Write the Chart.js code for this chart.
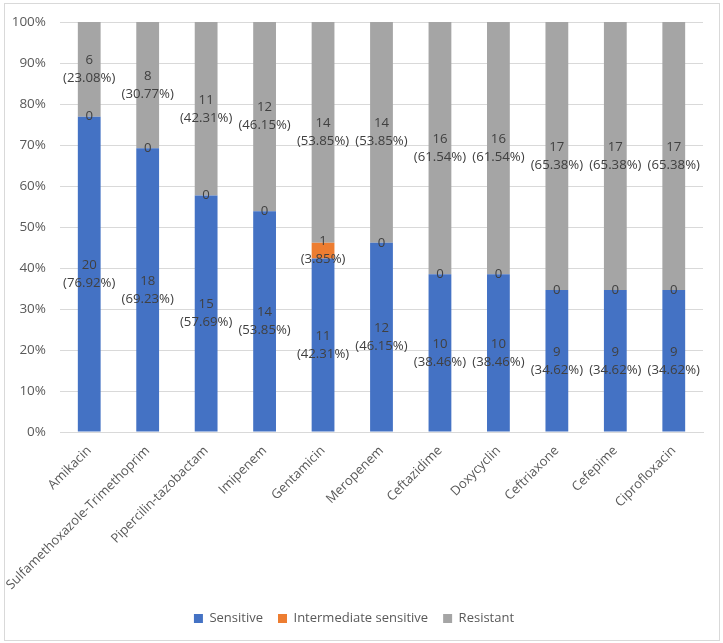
<!DOCTYPE html>
<html>
<head>
<meta charset="utf-8">
<script src="https://cdn.jsdelivr.net/npm/chart.js@4.4.1/dist/chart.umd.min.js"></script>
<style>
  body { margin: 0; background: #fff; }
  #wrap { position: absolute; left: 0; top: 0; width: 723px; height: 643px; }
</style>
</head>
<body>
<div id="wrap"><canvas id="abChart" width="723" height="643"></canvas></div>
<script>
// Data
const drugs = ['Amikacin', 'Sulfamethoxazole-Trimethoprim', 'Pipercilin-tazobactam', 'Imipenem',
  'Gentamicin', 'Meropenem', 'Ceftazidime', 'Doxycyclin', 'Ceftriaxone', 'Cefepime', 'Ciprofloxacin'];

const sensitiveN = [20, 18, 15, 14, 11, 12, 10, 10, 9, 9, 9];
const sensitivePct = [76.92, 69.23, 57.69, 53.85, 42.31, 46.15, 38.46, 38.46, 34.62, 34.62, 34.62];
const intermediateN = [0, 0, 0, 0, 1, 0, 0, 0, 0, 0, 0];
const intermediatePct = [0, 0, 0, 0, 3.85, 0, 0, 0, 0, 0, 0];
const resistantN = [6, 8, 11, 12, 14, 14, 16, 16, 17, 17, 17];
const resistantPct = [23.08, 30.77, 42.31, 46.15, 53.85, 53.85, 61.54, 61.54, 65.38, 65.38, 65.38];

const yTicks = [0, 10, 20, 30, 40, 50, 60, 70, 80, 90, 100];

const FONT = 'Open Sans';
const grey = '#595959';

// border round the whole chart
const frame = {
  id: 'frame',
  beforeDraw(chart) {
    const c = chart.ctx;
    c.save();
    c.fillStyle = '#fff';
    c.fillRect(0, 0, chart.width, chart.height);
    c.strokeStyle = '#d9d9d9';
    c.lineWidth = 1;
    c.strokeRect(4.5, 3.5, 715, 637);
    c.restore();
  }
};

// count + percent labels in the middle of each piece
const segLabels = {
  id: 'segLabels',
  afterDatasetsDraw(chart) {
    const c = chart.ctx;
    c.save();
    c.font = '13.2px "' + FONT + '"';
    c.fillStyle = '#404040';
    c.textAlign = 'center';
    c.textBaseline = 'middle';
    chart.data.datasets.forEach((ds, i) => {
      const meta = chart.getDatasetMeta(i);
      meta.data.forEach((bar, j) => {
        const n = ds.counts[j];
        const mid = (bar.y + bar.base) / 2;
        if (n === 0) {
          c.fillText('0', bar.x, mid);
        } else {
          c.fillText(String(n), bar.x, mid - 9);
          c.fillText('(' + ds.data[j].toFixed(2) + '%)', bar.x, mid + 9);
        }
      });
    });
    c.restore();
  }
};

const ctx = document.getElementById('abChart').getContext('2d');
new Chart(ctx, {
  type: 'bar',
  data: {
    labels: drugs,
    datasets: [
      { label: 'Sensitive', data: sensitivePct, counts: sensitiveN, backgroundColor: '#4472c4' },
      { label: 'Intermediate sensitive', data: intermediatePct, counts: intermediateN, backgroundColor: '#ed7d31' },
      { label: 'Resistant', data: resistantPct, counts: resistantN, backgroundColor: '#a5a5a5' }
    ]
  },
  options: {
    responsive: false,
    animation: false,
    layout: { padding: { left: 5, right: 20, top: 20, bottom: 8 } },
    datasets: { bar: { categoryPercentage: 1, barPercentage: 0.39, borderWidth: 0 } },
    scales: {
      x: {
        stacked: true,
        grid: { display: false, drawTicks: false },
        border: { color: '#d9d9d9' },
        ticks: { color: grey, font: { family: FONT, size: 13 }, minRotation: 45, maxRotation: 45, autoSkip: false, padding: 11 },
        afterFit: (s) => { s.height = 165; }
      },
      y: {
        stacked: true,
        min: 0,
        max: 100,
        afterBuildTicks: (s) => { s.ticks = yTicks.map(v => ({ value: v })); },
        grid: { color: '#d9d9d9', drawTicks: false },
        border: { display: false },
        ticks: { color: grey, font: { family: FONT, size: 13.5 }, padding: 14, callback: (v) => v + '%' },
        afterFit: (s) => { s.width = 55; }
      }
    },
    plugins: {
      legend: {
        position: 'bottom',
        labels: { color: grey, font: { family: FONT, size: 13 }, boxWidth: 9, boxHeight: 9, padding: 15 }
      },
      tooltip: { enabled: false }
    }
  },
  plugins: [frame, segLabels]
});
</script>
</body>
</html>
